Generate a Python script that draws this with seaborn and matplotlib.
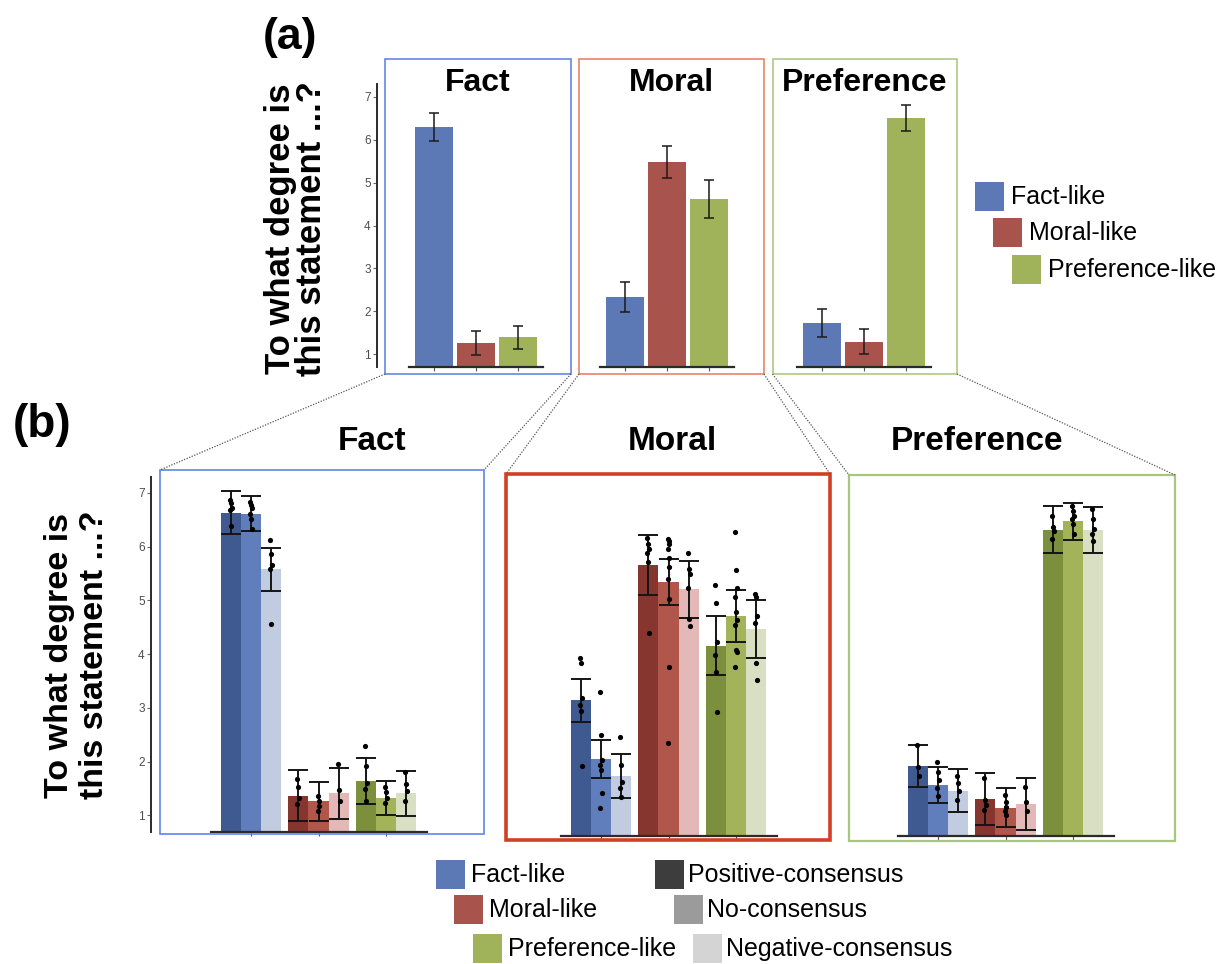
import numpy as np
import pandas as pd
import matplotlib
matplotlib.use("Agg")
import matplotlib.pyplot as plt
from matplotlib.patches import Rectangle
from matplotlib.lines import Line2D
from matplotlib.container import BarContainer
import seaborn as sns

# ---------------- data ----------------
categories = ["Fact-like", "Moral-like", "Preference-like"]
panel_titles = ["Fact", "Moral", "Preference"]
consensus_levels = ["Positive-consensus", "No-consensus", "Negative-consensus"]
y_ticks = [1, 2, 3, 4, 5, 6, 7]
y_label = "To what degree is\nthis statement ...?"

# panel (a): mean and half-width of error bar per category
a_fact_mean = [6.30, 1.26, 1.39]
a_fact_err = [0.33, 0.28, 0.27]
a_moral_mean = [2.32, 5.48, 4.62]
a_moral_err = [0.35, 0.38, 0.44]
a_pref_mean = [1.73, 1.29, 6.51]
a_pref_err = [0.33, 0.29, 0.30]

# panel (b): rows = category, columns = consensus level
b_fact_mean = [[6.63, 6.61, 5.58], [1.37, 1.26, 1.41], [1.64, 1.33, 1.41]]
b_fact_err = [[0.40, 0.33, 0.40], [0.48, 0.36, 0.48], [0.42, 0.32, 0.42]]
b_moral_mean = [[3.22, 2.12, 1.81], [5.73, 5.41, 5.28], [4.23, 4.78, 4.54]]
b_moral_err = [[0.40, 0.35, 0.41], [0.55, 0.43, 0.53], [0.55, 0.48, 0.54]]
b_pref_mean = [[1.99, 1.64, 1.53], [1.38, 1.22, 1.29], [6.39, 6.54, 6.38]]
b_pref_err = [[0.39, 0.33, 0.40], [0.48, 0.36, 0.49], [0.43, 0.34, 0.43]]

# panel (b): item means (dots)
b_fact_items = [
    [[6.86, 6.80, 6.71, 6.68, 6.39], [6.83, 6.77, 6.71, 6.61, 6.52, 6.33], [6.12, 5.87, 5.65, 5.59, 4.56]],
    [[1.67, 1.52, 1.33, 1.21], [1.36, 1.27, 1.18, 1.09], [1.95, 1.47, 1.27]],
    [[2.29, 1.92, 1.61, 1.49, 1.27], [1.52, 1.43, 1.33, 1.24], [1.81, 1.58, 1.46, 1.27]],
]
b_moral_items = [
    [[4.01, 3.91, 3.25, 3.12, 3.01, 1.99], [3.37, 2.57, 2.11, 2.01, 1.92, 1.49, 1.22], [2.54, 2.01, 1.70, 1.58, 1.41]],
    [[6.24, 6.12, 6.02, 5.96, 5.78, 4.46], [6.22, 6.18, 6.12, 6.02, 5.87, 5.69, 5.47, 5.10, 3.83, 2.43],
     [5.95, 5.65, 5.56, 5.31, 4.73, 4.59]],
    [[5.35, 5.02, 4.30, 4.06, 3.74, 2.99], [6.35, 5.64, 5.30, 5.13, 4.85, 4.70, 4.61, 4.15, 4.11, 3.83],
     [5.19, 5.13, 4.79, 4.65, 3.91, 3.59]],
]
b_pref_items = [
    [[2.39, 1.98, 1.80], [2.06, 1.89, 1.73, 1.58, 1.43], [1.81, 1.67, 1.52, 1.36]],
    [[1.78, 1.36, 1.27, 1.18], [1.46, 1.33, 1.24, 1.15, 1.09], [1.61, 1.33, 1.15]],
    [[6.64, 6.43, 6.36, 6.21], [6.83, 6.74, 6.64, 6.58, 6.49, 6.30], [6.77, 6.58, 6.40, 6.30, 6.18]],
]

# ---------------- style ----------------
a_colors = ["#5D79B5", "#A8534B", "#A0B25A"]
b_colors = [["#3E5A90", "#5F7EBB", "#C2CCE0"],
            ["#86352F", "#B0564B", "#E3B8B7"],
            ["#7B8F3D", "#A3B35A", "#D9DFC3"]]
legend_gray = ["#3D3D3D", "#9B9B9B", "#D4D4D4"]
a_box_colors = ["#5A7CE6", "#E8775F", "#A5C47A"]
b_box_colors = ["#5F86E8", "#D23F24", "#A8C67E"]
b_box_lw = [1.2, 2.6, 1.6]

sns.set_theme(style="white")
plt.rcParams["font.family"] = ["Liberation Sans", "DejaVu Sans"]
plt.rcParams["text.color"] = "black"

W, H = 1231, 964
fig = plt.figure(figsize=(W / 100, H / 100), dpi=100)


def rect(x0, y0, x1, y1):
    return [x0 / W, 1 - y1 / H, (x1 - x0) / W, (y1 - y0) / H]


def fx(x):
    return x / W


def fy(y):
    return 1 - y / H


def px2pt(p):
    return p * 72.0 / 100.0


def bar_containers(ax):
    return [c for c in ax.containers if isinstance(c, BarContainer)]


def style_axes(ax, show_y, out_px):
    ax.set_ylim(0.7, 7.3)
    ax.set_xlim(-0.6, 2.6)
    ax.set_xlabel("")
    ax.set_ylabel("")
    ax.patch.set_alpha(0)
    for s in ["top", "right"]:
        ax.spines[s].set_visible(False)
    ax.spines["bottom"].set_color("#2a2a2a")
    ax.spines["bottom"].set_linewidth(1.6)
    ax.set_xticks([0, 1, 2])
    ax.set_xticklabels([])
    ax.tick_params(axis="x", bottom=True, length=3, width=0.8, color="#555555", direction="out")
    if show_y:
        ax.spines["left"].set_position(("outward", px2pt(out_px)))
        ax.spines["left"].set_color("#2a2a2a")
        ax.spines["left"].set_linewidth(1.4)
        ax.set_yticks(y_ticks)
        ax.set_yticklabels([str(t) for t in y_ticks])
        ax.tick_params(axis="y", left=True, length=3, width=0.8, color="#666666",
                       labelsize=8.5, labelcolor="#4D4D4D", pad=1.5)
    else:
        ax.spines["left"].set_visible(False)
        ax.set_yticks([])


# ---------------- panel (a) ----------------
a_means = [a_fact_mean, a_moral_mean, a_pref_mean]
a_errs = [a_fact_err, a_moral_err, a_pref_err]
a_x0 = [408.5, 599.5, 796.8]
a_boxes = [(385, 59, 571, 374), (579, 59, 764, 374), (772.5, 59, 957, 374)]
a_title_x = [478, 671, 865]

for i in range(3):
    ax = fig.add_axes(rect(a_x0[i], 84.1, a_x0[i] + 134.4, 366.9))
    df = pd.DataFrame({"category": categories, "mean": a_means[i]})
    sns.barplot(data=df, x="category", y="mean", hue="category", order=categories,
                hue_order=categories, palette=a_colors, width=0.9, errorbar=None,
                legend=False, saturation=1, ax=ax, edgecolor="none")
    xs = []
    for cont in bar_containers(ax):
        for p in cont:
            if p.get_height() > 0:
                xs.append(p.get_x() + p.get_width() / 2)
    xs = np.sort(np.array(xs))
    ax.errorbar(xs, a_means[i], yerr=a_errs[i], fmt="none", ecolor="#1a1a1a",
                elinewidth=1.1, capsize=3.5, capthick=1.1, zorder=5)
    style_axes(ax, i == 0, a_x0[0] - 377)
    bx = a_boxes[i]
    fig.add_artist(Rectangle((fx(bx[0]), fy(bx[3])), (bx[2] - bx[0]) / W, (bx[3] - bx[1]) / H,
                             transform=fig.transFigure, fill=False, ec=a_box_colors[i], lw=1.1))
    fig.text(fx(a_title_x[i]), fy(83), panel_titles[i], ha="center", va="center",
             fontsize=23, fontweight="bold", color="black")

fig.text(fx(290), fy(37), "(a)", ha="center", va="center", fontsize=32, fontweight="bold",
         color="black")
fig.text(fx(296), fy(229), y_label, ha="center", va="center", rotation=90,
         fontsize=25, fontweight="bold", linespacing=0.95, multialignment="center", color="black")

# legend (a)
a_leg_sq = [(975, 182), (993, 218), (1012, 255)]
for k in range(3):
    sx, sy = a_leg_sq[k]
    fig.add_artist(Rectangle((fx(sx), fy(sy + 29)), 29 / W, 29 / H, transform=fig.transFigure,
                             fc=a_colors[k], ec="none"))
    fig.text(fx(sx + 36), fy(sy + 15), categories[k], ha="left", va="center", fontsize=18,
             color="black")

# ---------------- panel (b) ----------------
b_means = [b_fact_mean, b_moral_mean, b_pref_mean]
b_errs = [b_fact_err, b_moral_err, b_pref_err]
b_items = [b_fact_items, b_moral_items, b_pref_items]
b_x0 = [210.5, 560.5, 897.5]
b_ytop = [476.6, 480.6, 480.6]
b_boxes = [(160, 470, 484, 834), (506, 474, 830, 840), (849, 475, 1175, 841)]
b_title_x = [372, 672, 977]

for i in range(3):
    ax = fig.add_axes(rect(b_x0[i], b_ytop[i], b_x0[i] + 216, b_ytop[i] + 355))
    rows = []
    for c in range(3):
        for k in range(3):
            rows.append({"category": categories[c], "consensus": consensus_levels[k],
                         "mean": b_means[i][c][k]})
    df = pd.DataFrame(rows)
    sns.barplot(data=df, x="category", y="mean", hue="consensus", order=categories,
                hue_order=consensus_levels, width=0.9, errorbar=None, legend=False,
                saturation=1, ax=ax, edgecolor="none")
    conts = bar_containers(ax)
    for k, cont in enumerate(conts):
        for c, p in enumerate(list(cont)):
            p.set_facecolor(b_colors[c][k])
            cx = p.get_x() + p.get_width() / 2
            ax.errorbar([cx], [b_means[i][c][k]], yerr=[b_errs[i][c][k]], fmt="none",
                        ecolor="#151515", elinewidth=1.4, capsize=7, capthick=1.4, zorder=5)
            pts = b_items[i][c][k]
            offs = np.array([((j % 3) - 1) * 0.012 for j in range(len(pts))])
            ax.scatter(cx + offs, pts, s=14, color="black", zorder=6, linewidths=0)
    style_axes(ax, i == 0, b_x0[0] - 151)
    bx = b_boxes[i]
    fig.add_artist(Rectangle((fx(bx[0]), fy(bx[3])), (bx[2] - bx[0]) / W, (bx[3] - bx[1]) / H,
                             transform=fig.transFigure, fill=False, ec=b_box_colors[i], lw=b_box_lw[i]))
    fig.text(fx(b_title_x[i]), fy(442), panel_titles[i], ha="center", va="center",
             fontsize=24, fontweight="bold", color="black")

fig.text(fx(42), fy(425), "(b)", ha="center", va="center", fontsize=33, fontweight="bold",
         color="black")
fig.text(fx(77), fy(655), y_label, ha="center", va="center", rotation=90,
         fontsize=24.5, fontweight="bold", linespacing=1.15, multialignment="center", color="black")

# dotted connector lines between (a) and (b)
connectors = [((385, 374), (160, 470)), ((571, 374), (484, 470)),
              ((579, 374), (506, 474)), ((764, 374), (830, 474)),
              ((772.5, 374), (849, 475)), ((957, 374), (1175, 475))]
for (x0, y0), (x1, y1) in connectors:
    fig.add_artist(Line2D([fx(x0), fx(x1)], [fy(y0), fy(y1)], transform=fig.transFigure,
                          ls=(0, (1, 1.2)), color="#555555", lw=0.9))

# legend (b)
b_leg_cat_sq = [(436, 860), (454, 895), (473, 934)]
b_leg_cons_sq = [(655, 860), (674, 895), (693, 934)]
for k in range(3):
    sx, sy = b_leg_cat_sq[k]
    fig.add_artist(Rectangle((fx(sx), fy(sy + 29)), 29 / W, 29 / H, transform=fig.transFigure,
                             fc=a_colors[k], ec="none"))
    fig.text(fx(sx + 35), fy(sy + 15), categories[k], ha="left", va="center", fontsize=18,
             color="black")
    sx, sy = b_leg_cons_sq[k]
    fig.add_artist(Rectangle((fx(sx), fy(sy + 29)), 29 / W, 29 / H, transform=fig.transFigure,
                             fc=legend_gray[k], ec="none"))
    fig.text(fx(sx + 33), fy(sy + 15), consensus_levels[k], ha="left", va="center", fontsize=18,
             color="black")

fig.savefig("out.png", dpi=100)
